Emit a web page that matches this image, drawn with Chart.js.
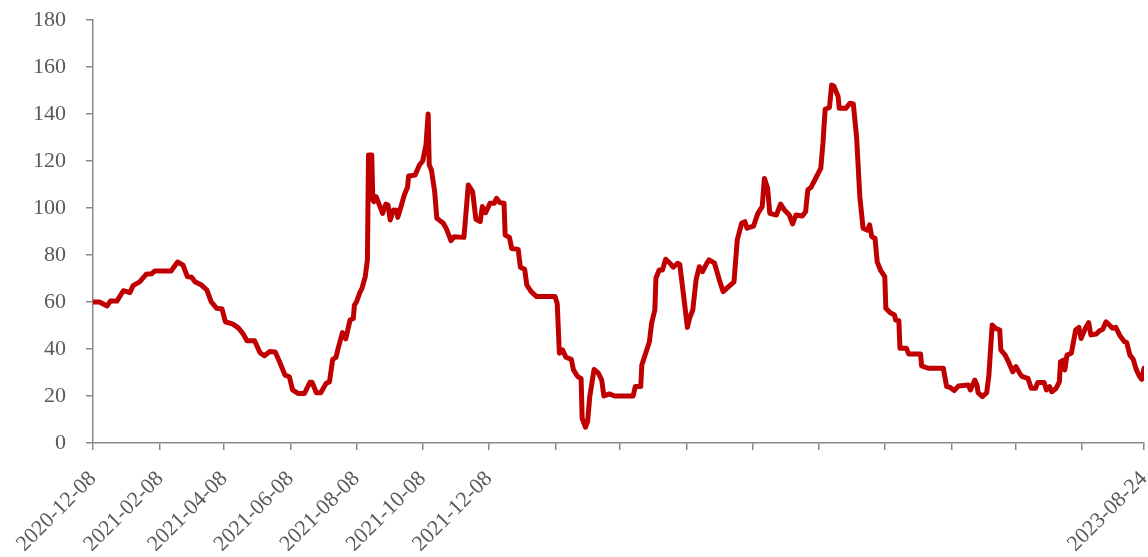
<!DOCTYPE html>
<html>
<head>
<meta charset="utf-8">
<script src="https://cdn.jsdelivr.net/npm/chart.js@4.4.0/dist/chart.umd.min.js"></script>
<style>
  html, body { margin: 0; padding: 0; background: #fff; }
  #wrap { width: 1148px; height: 557px; }
</style>
</head>
<body>
<div id="wrap"><canvas id="lineChart" width="1148" height="557"></canvas></div>
<script>
// days since 2020-12-08
const days = [
  0, 6, 13, 16, 22, 28, 34, 37, 43, 49, 54, 57, 72, 78, 83, 87, 91, 94, 100, 105,
  109, 114, 119, 122, 129, 134, 138, 142, 149, 154, 158, 163, 168, 172, 177, 181, 184, 189, 195, 200,
  202, 206, 210, 215, 218, 221, 224, 226, 230, 233, 237, 240, 241, 243, 246, 248, 251, 253, 254, 257,
  258, 259, 261, 264, 267, 270, 272, 274, 277, 280, 281, 284, 287, 290, 291, 297, 301, 304, 307, 309,
  310, 312, 315, 317, 320, 323, 326, 330, 333, 342, 346, 350, 353, 357, 359, 362, 366, 370, 372, 375,
  379, 380, 384, 386, 392, 394, 398, 400, 404, 409, 426, 428, 430, 433, 436, 441, 443, 447, 450, 451,
  454, 456, 458, 462, 466, 469, 471, 476, 481, 498, 500, 505, 506, 513, 515, 518, 519, 522, 525, 528,
  532, 535, 539, 541, 545, 548, 550, 553, 556, 559, 562, 566, 568, 573, 578, 581, 585, 591, 594, 598,
  601, 603, 609, 613, 617, 619, 622, 624, 630, 634, 637, 642, 645, 648, 654, 657, 659, 662, 667, 671,
  673, 675, 679, 681, 683, 687, 688, 694, 698, 701, 704, 707, 710, 714, 716, 718, 721, 723, 726, 730,
  731, 735, 739, 740, 743, 744, 750, 752, 763, 764, 770, 784, 787, 790, 794, 798, 807, 809, 813, 815,
  816, 820, 824, 826, 829, 832, 836, 837, 841, 844, 848, 851, 855, 857, 862, 865, 869, 871, 877, 879,
  882, 884, 888, 891, 892, 895, 896, 898, 902, 904, 906, 909, 911, 913, 915, 918, 920, 925, 928, 931,
  934, 938, 940, 943, 947, 951, 953, 956, 959, 962, 965, 967, 969
];
const values = [
  60, 60, 58.3, 60.4, 60.4, 64.8, 64, 67, 68.6, 71.8, 72, 73.2, 73.2, 77, 75.7, 70.8, 70.5, 68.6, 67.2, 65.1,
  60.1, 57.3, 57, 51.6, 50.6, 49, 46.7, 43.5, 43.5, 38.4, 37.1, 38.9, 38.7, 34.6, 28.9, 28.2, 22.6, 21.1, 21.1, 25.8,
  25.8, 21.4, 21.4, 25.4, 26, 35.6, 36.4, 40.3, 47, 44.3, 52.3, 53, 58.7, 60.1, 64, 65.8, 70.8, 77.9, 122.6, 122.6,
  103.4, 102.7, 104.8, 101.3, 97.7, 101.7, 101.3, 94.9, 99.1, 99, 96, 100.6, 105.5, 108.8, 113.6, 114, 118.3, 120, 126.8, 140,
  118.3, 116.2, 107, 95.6, 94.6, 93.5, 91, 86.1, 87.8, 87.5, 109.8, 107, 95.2, 94.2, 100.6, 98, 102, 102, 104.1, 102.3,
  102, 88.5, 87.5, 82.8, 82.4, 74.8, 73.9, 67.2, 64.4, 62.3, 62.3, 59.4, 38.2, 39.6, 36.5, 35.6, 31.1, 28.2, 27.5, 10.5,
  6.7, 9.1, 19.7, 31.3, 29.7, 26.8, 20, 20.9, 20, 20, 24, 24, 33.2, 43.1, 50.9, 56.6, 70.1, 73.6, 73.6, 78.2,
  76.5, 74.8, 76.5, 76, 60.9, 49.2, 53, 56.6, 69.4, 75, 72.9, 76.5, 77.9, 76.5, 68.6, 64.4, 66.1, 68.6, 86.4, 93.5,
  94.2, 91.4, 92.3, 97.7, 100.6, 112.6, 108.4, 97.7, 97, 101.7, 99.4, 97, 93.2, 97, 96.6, 98.4, 107.7, 108.8, 113.3, 116.9,
  127.5, 142, 142.8, 152.3, 151.9, 147.4, 142.4, 142.4, 144.6, 144.3, 130.3, 104.8, 91.4, 90.6, 92.8, 87.8, 87.1, 77.1, 73.6, 70.8,
  57.3, 55.4, 54.5, 52.3, 52, 40.3, 40.3, 37.9, 37.9, 32.8, 31.8, 31.8, 24, 23.7, 22.3, 24.3, 24.7, 22.6, 26.8, 24.7,
  21.4, 19.7, 21.4, 28.9, 50.2, 48.8, 48.1, 39.6, 37.4, 34.6, 30.3, 32.5, 29.2, 28.2, 27.5, 23.3, 23.3, 25.7, 25.7, 22.6,
  24, 21.8, 23.3, 26.1, 34.6, 35.3, 31.1, 37.4, 38.2, 43.1, 48.1, 49.2, 44.5, 46.7, 48.8, 51.2, 46, 46.4, 47.8, 48.4,
  51.6, 49.8, 48.8, 49.2, 45.5, 43.1, 42.8, 37.4, 35.6, 31.1, 28.2, 27.1, 31.8
];
// x-axis ticks (days since 2020-12-08) and their labels
const tickDays = [0, 62, 121, 182, 243, 304, 365, 427, 486, 547, 608, 669, 730, 792, 851, 912, 969];
const tickLabels = [
  "2020-12-08", "2021-02-08", "2021-04-08", "2021-06-08", "2021-08-08", "2021-10-08", "2021-12-08",
  "", "", "", "", "", "", "", "", "", "2023-08-24"
];

const axisGray = "#898989";
const textGray = "#595959";
const font = { family: "'Liberation Serif', 'Times New Roman', serif", size: 22 };

const ctx = document.getElementById("lineChart");
new Chart(ctx, {
  type: "line",
  data: {
    datasets: [{
      data: days.map((d, i) => ({ x: d, y: values[i] })),
      borderColor: "#C00000",
      borderWidth: 5,
      pointRadius: 0,
      tension: 0,
      borderJoinStyle: "round",
      borderCapStyle: "round"
    }]
  },
  options: {
    responsive: false,
    animation: false,
    layout: { padding: { top: 20, right: 4, left: 0, bottom: 0 } },
    plugins: { legend: { display: false }, tooltip: { enabled: false } },
    scales: {
      x: {
        type: "linear",
        min: 0,
        max: 969,
        afterBuildTicks: scale => {
          scale.ticks = tickDays.map(v => ({ value: v }));
        },
        afterFit: scale => {
          scale.height = 114;
          scale.paddingLeft = 0;
          scale.paddingRight = 0;
        },
        ticks: {
          autoSkip: false,
          maxRotation: 45,
          minRotation: 45,
          padding: 16,
          color: textGray,
          font: font,
          callback: (value, index) => tickLabels[index]
        },
        grid: { drawOnChartArea: false, tickLength: 7, color: axisGray, lineWidth: 1.5 },
        border: { color: axisGray, width: 1.5 }
      },
      y: {
        min: 0,
        max: 180,
        afterFit: scale => {
          scale.width = 93;
          scale.paddingTop = 0;
          scale.paddingBottom = 0;
        },
        ticks: { stepSize: 20, padding: 20, color: textGray, font: font },
        grid: { drawOnChartArea: false, tickLength: 7, color: axisGray, lineWidth: 1.5 },
        border: { color: axisGray, width: 1.5 }
      }
    }
  }
});
</script>
</body>
</html>
